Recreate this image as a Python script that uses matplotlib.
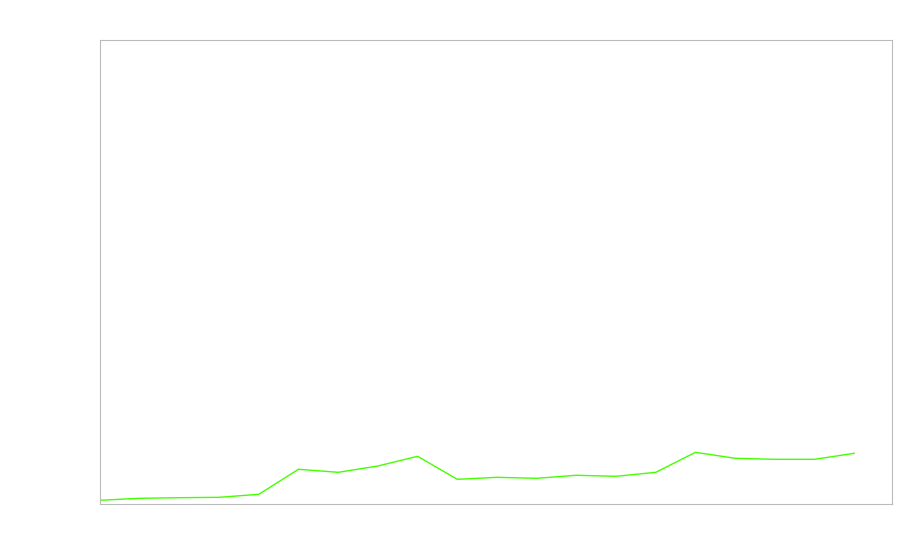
import matplotlib
matplotlib.use("Agg")
import matplotlib.pyplot as plt

# one value per step (y axis 0..100)
steps = list(range(20))
values = [0.80, 1.23, 1.36, 1.44, 2.09, 7.48, 6.83, 8.19, 10.28, 5.32,
          5.75, 5.54, 6.19, 5.97, 6.83, 11.14, 9.85, 9.63, 9.63, 10.93]

fig = plt.figure(figsize=(9, 5.6), dpi=100)
ax = fig.add_axes([100 / 900, 56 / 560, 792 / 900, 464 / 560])

ax.plot(steps, values, color='#44ff00', linewidth=1.0)

ax.set_xlim(0, 19.95)
ax.set_ylim(0, 100)
ax.set_xticks([])
ax.set_yticks([])
for spine in ax.spines.values():
    spine.set_color('#bbbbbb')
    spine.set_linewidth(0.8)

fig.savefig('out.png', dpi=100)
